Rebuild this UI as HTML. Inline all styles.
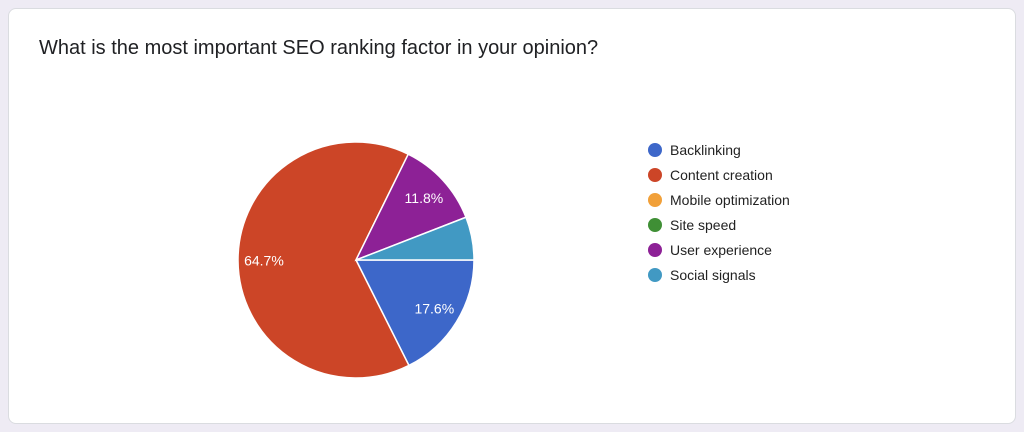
<!DOCTYPE html>
<html><head><meta charset="utf-8"><style>
body{margin:0;width:1024px;height:432px;background:#eeebf4;font-family:"Liberation Sans",sans-serif;overflow:hidden}
#card{position:absolute;left:8px;top:8px;width:1006px;height:414px;background:#fff;border:1px solid #dadce0;border-radius:8px}
#title{position:absolute;left:30px;top:28px;font-size:20px;color:#202124}
svg{position:absolute;left:0;top:0}
</style></head><body>
<div id="card">
<div id="title">What is the most important SEO ranking factor in your opinion?</div>
</div>
<svg id="chart" width="1024" height="432"></svg>
<script>
const categories=["Backlinking","Content creation","Mobile optimization","Site speed","User experience","Social signals"];
const values=[17.6,64.7,0,0,11.8,5.9];
const colors=["#3d67c9","#cc4527","#f1a039","#3f8f35","#8d2196","#4199c3"];
const svg=document.getElementById('chart');
const NS="http://www.w3.org/2000/svg";
const cx=356,cy=260,r=118;
const total=values.reduce((a,b)=>a+b,0);
let a0=0;
values.forEach((v,i)=>{
  if(v<=0)return;
  const a1=a0+v/total*2*Math.PI;
  const x0=cx+r*Math.cos(a0),y0=cy+r*Math.sin(a0),x1=cx+r*Math.cos(a1),y1=cy+r*Math.sin(a1);
  const p=document.createElementNS(NS,'path');
  p.setAttribute('d',`M${cx},${cy}L${x0},${y0}A${r},${r} 0 ${a1-a0>Math.PI?1:0} 1 ${x1},${y1}Z`);
  p.setAttribute('fill',colors[i]);p.setAttribute('stroke','#fff');p.setAttribute('stroke-width','1.5');
  
  
  svg.appendChild(p);
  if(v/total>0.08){
    const m=(a0+a1)/2,lr=r*0.78;
    const t=document.createElementNS(NS,'text');
    t.setAttribute('x',cx+lr*Math.cos(m));t.setAttribute('y',cy+lr*Math.sin(m)+5);
    t.setAttribute('text-anchor','middle');t.setAttribute('fill','#fff');t.setAttribute('font-size','14');
    t.setAttribute('font-family','Liberation Sans, sans-serif');
    t.textContent=v.toFixed(1)+'%';
    
    
    svg.appendChild(t);
  }
  a0=a1;
});
categories.forEach((c,i)=>{
  const y=150+i*25;
  const g=document.createElementNS(NS,'g');
  
  
  const ci=document.createElementNS(NS,'circle');
  ci.setAttribute('cx',655);ci.setAttribute('cy',y);ci.setAttribute('r',7);ci.setAttribute('fill',colors[i]);
  const t=document.createElementNS(NS,'text');
  t.setAttribute('x',670);t.setAttribute('y',y+5);t.setAttribute('font-size','14');t.setAttribute('fill','#222');
  t.setAttribute('font-family','Liberation Sans, sans-serif');
  t.textContent=c;
  g.appendChild(ci);g.appendChild(t);svg.appendChild(g);
});
</script>
</body></html>
